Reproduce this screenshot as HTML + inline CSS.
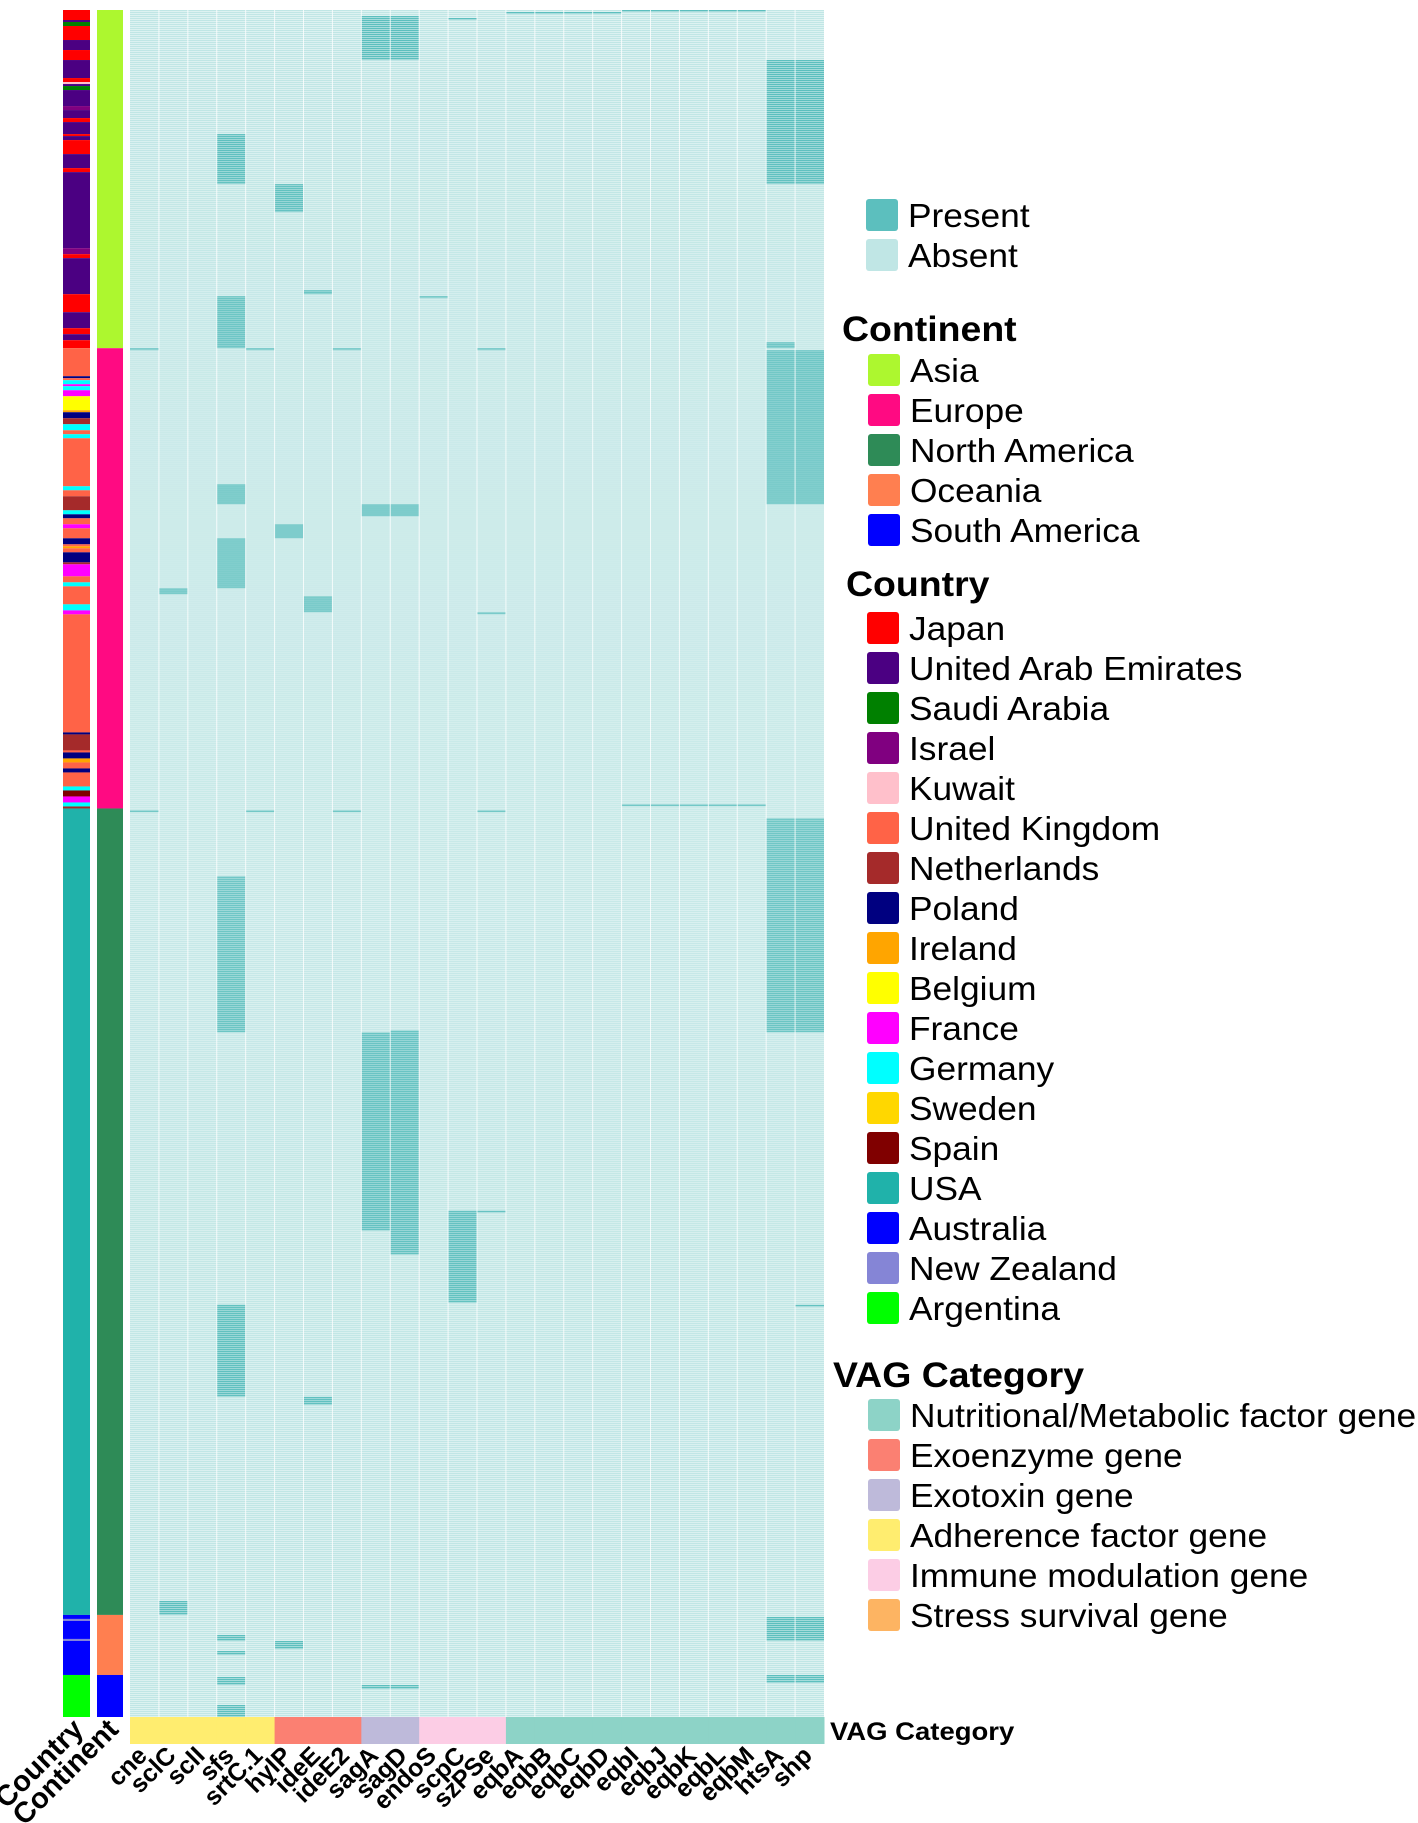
<!DOCTYPE html>
<html><head><meta charset="utf-8"><style>
html,body{margin:0;padding:0;background:#fff;}
svg{display:block;font-family:"Liberation Sans",Arial,sans-serif;}
</style></head><body>
<svg id="chart" width="1418" height="1823" viewBox="0 0 1418 1823" xmlns="http://www.w3.org/2000/svg">
<defs>
<pattern id="rowlines" x="0" y="10" width="10" height="2.001" patternUnits="userSpaceOnUse">
<rect x="0" y="1.45" width="10" height="0.55" fill="#ffffff" opacity="0.8"></rect>
</pattern>
</defs>
<g id="heat"></g>
<g id="bars"></g>
<g id="labels"></g>
<g id="legend"></g>
</svg>
<script>
// ---- data ----
const genes = ["cne","sclC","sclI","sfs","srtC.1","hylP","ideE","ideE2","sagA","sagD","endoS","scpC","szPSe","eqbA","eqbB","eqbC","eqbD","eqbI","eqbJ","eqbK","eqbL","eqbM","htsA","shp"];
const geneCategory = ["Adherence","Adherence","Adherence","Adherence","Adherence","Exoenzyme","Exoenzyme","Exoenzyme","Exotoxin","Exotoxin","Immune","Immune","Immune","Nutritional","Nutritional","Nutritional","Nutritional","Nutritional","Nutritional","Nutritional","Nutritional","Nutritional","Nutritional","Nutritional"];
const nRows = 853;
// present blocks: gene column index, first row, end row (exclusive)
const presentCol   = [8,9,11,13,14,15,16,17,18,19,20,21,22,23,3,5,6,10,3,0,4,7,12,22, 22,23,3,8,9,5,3,1,6,12,17,18,19,20,21, 0,4,7,12,22,23,3,8,9,11,12,23,3,6,1, 22,23,3,3,5,3,22,23,8,9,3];
const presentStart = [3,3,4,1,1,1,1,0,0,0,0,0,25,25,62,87,140,143,143,169,169,169,169,166, 170,170,237,247,247,257,264,289,293,301,397,397,397,397,397, 400,400,400,400,404,404,433,511,510,600,600,647,647,693,795, 803,803,812,820,815,833,832,832,837,837,847];
const presentEnd   = [25,25,5,2,2,2,2,1,1,1,1,1,87,87,87,101,142,144,169,170,170,170,170,169, 247,247,247,253,253,264,289,292,301,302,398,398,398,398,398, 401,401,401,401,511,511,511,610,622,646,601,648,693,697,802, 815,815,815,822,819,837,836,836,839,839,853];
const continentNames = ["Asia","Europe","North America","Oceania","South America"];
const continentStart = [0,169,399,802,832];
const countrySeq = ["Japan","United Arab Emirates","Saudi Arabia","Japan","United Arab Emirates","Japan","United Arab Emirates","Japan","Kuwait","United Arab Emirates","Saudi Arabia","United Arab Emirates","Israel","United Arab Emirates","Japan","United Arab Emirates","Japan","United Arab Emirates","Japan","United Arab Emirates","Japan","United Arab Emirates","Israel","Japan","United Arab Emirates","Japan","United Arab Emirates","Japan","United Arab Emirates","Japan",
"United Kingdom","Poland","United Kingdom","Germany","France","Germany","France","Belgium","Ireland","Poland","Netherlands","Germany","United Kingdom","Germany","United Kingdom","Germany","United Kingdom","Netherlands","Germany","Poland","United Kingdom","France","United Kingdom","Poland","United Kingdom","Ireland","United Kingdom","Poland","Netherlands","France","United Kingdom","Germany","United Kingdom","Germany","France","United Kingdom","Poland","Netherlands","United Kingdom","Poland","Ireland","United Kingdom","Poland","United Kingdom","Germany","Spain","France","Germany","Netherlands",
"USA","Australia","New Zealand","Australia","New Zealand","Australia","Argentina"];
const countryStart = [0,5,6,8,15,20,25,34,36,37,38,40,48,50,54,56,62,63,65,72,79,81,119,122,124,142,151,159,162,165,
169,183,184,185,187,188,190,193,200,201,204,207,210,212,214,238,240,243,250,252,254,257,259,264,267,268,269,271,276,277,283,286,288,297,300,302,361,362,370,371,374,376,379,381,388,390,393,396,398,
399,802,804,805,814,815,832];
const presenceLabels = ["Present","Absent"];
const countryLegend = ["Japan","United Arab Emirates","Saudi Arabia","Israel","Kuwait","United Kingdom","Netherlands","Poland","Ireland","Belgium","France","Germany","Sweden","Spain","USA","Australia","New Zealand","Argentina"];
const vagLegend = ["Nutritional/Metabolic factor gene","Exoenzyme gene","Exotoxin gene","Adherence factor gene","Immune modulation gene","Stress survival gene"];

// ---- styles ----
const C_PRESENT = "#5cbfbe", C_ABSENT = "#c0e6e5";
const contColor = {"Asia":"#adf72f","Europe":"#ff0a82","North America":"#2e8b57","Oceania":"#ff7f50","South America":"#0000ff"};
const countryColor = {"Japan":"#ff0000","United Arab Emirates":"#4b0082","Saudi Arabia":"#008000","Israel":"#800080","Kuwait":"#ffc0cb","United Kingdom":"#ff6347","Netherlands":"#a52a2a","Poland":"#000080","Ireland":"#ffa500","Belgium":"#ffff00","France":"#ff00ff","Germany":"#00ffff","Sweden":"#ffd700","Spain":"#800000","USA":"#20b2aa","Australia":"#0000ff","New Zealand":"#8585d6","Argentina":"#00ff00"};
const catColor = {"Nutritional":"#8dd3c7","Exoenzyme":"#fb8072","Exotoxin":"#bebada","Adherence":"#ffed6f","Immune":"#fccde5","Stress":"#fdb462"};
const vagLegendColor = ["#8dd3c7","#fb8072","#bebada","#ffed6f","#fccde5","#fdb462"];

const NS = "http://www.w3.org/2000/svg";
const X0 = 130, X1 = 824, Y0 = 10, Y1 = 1717;
const colW = (X1 - X0) / genes.length;
const rowH = (Y1 - Y0) / nRows;
const xCol = c => X0 + c * colW;
const yRow = r => Y0 + r * rowH;
const SX = 1.07;
function mk(tag, attrs, parent){ const e=document.createElementNS(NS,tag); for(const k in attrs) e.setAttribute(k,attrs[k]); parent.appendChild(e); return e; }
const stretch = x => `translate(${x} 0) scale(${SX} 1) translate(${-x} 0)`;

const heat = document.getElementById("heat");
const bg = mk("rect",{x:X0,y:Y0,width:X1-X0,height:Y1-Y0,fill:C_ABSENT},heat);


for (let i=0;i<presentCol.length;i++){
  const r = mk("rect",{x:xCol(presentCol[i]),y:yRow(presentStart[i]),width:colW,height:(presentEnd[i]-presentStart[i])*rowH,fill:C_PRESENT},heat);
  
  
}
const ov = mk("rect",{x:X0,y:Y0,width:X1-X0,height:Y1-Y0,fill:"url(#rowlines)"},heat);


for (let c=1;c<genes.length;c++){
  const l = mk("line",{x1:xCol(c),x2:xCol(c),y1:Y0,y2:Y1,stroke:"#ffffff","stroke-width":1,opacity:0.8},heat);
  
  
}

const bars = document.getElementById("bars");
for (let i=0;i<countrySeq.length;i++){
  const s = countryStart[i], e = i+1<countryStart.length ? countryStart[i+1] : nRows;
  const r = mk("rect",{x:63,y:yRow(s),width:27,height:(e-s)*rowH,fill:countryColor[countrySeq[i]]},bars);
  
  
}
for (let i=0;i<continentNames.length;i++){
  const s = continentStart[i], e = i+1<continentStart.length ? continentStart[i+1] : nRows;
  const r = mk("rect",{x:97,y:yRow(s),width:26,height:(e-s)*rowH,fill:contColor[continentNames[i]]},bars);
  
  
}
for (let c=0;c<genes.length;c++){
  const r = mk("rect",{x:xCol(c),y:1717,width:colW+0.5,height:27,fill:catColor[geneCategory[c]]},bars);
  
  
}
const vt = mk("text",{x:830,y:1740,"font-size":25,"font-weight":"bold",fill:"#000",transform:`translate(830 0) scale(1.1 1) translate(-830 0)`},bars);
vt.textContent = "VAG Category";



const labels = document.getElementById("labels");
for (let c=0;c<genes.length;c++){
  const cx = xCol(c)+colW/2+4, cy = 1757;
  const t = mk("text",{x:cx,y:cy,"text-anchor":"end","font-size":25,"font-weight":"bold",transform:`rotate(-45 ${cx} ${cy})`},labels);
  t.textContent = genes[c];
  
  
}
[["Country",85],["Continent",120]].forEach(([txt,cx])=>{
  const cy=1731;
  const t = mk("text",{x:cx,y:cy,"text-anchor":"end","font-size":29,"font-weight":"bold",transform:`rotate(-45 ${cx} ${cy})`},labels);
  t.textContent = txt;
  
  
});

const lg = document.getElementById("legend");
function item(color, label, sx, top, fs){
  const r = mk("rect",{x:sx,y:top,width:32,height:32,rx:3,fill:color},lg);
  
  
  const tx = sx+42;
  const t = mk("text",{x:tx,y:top+28,"font-size":fs,fill:"#000",transform:stretch(tx)},lg);
  t.textContent = label;
  
  
}
function heading(txt,x,y){
  const t = mk("text",{x:x,y:y,"font-size":35,"font-weight":"bold",fill:"#000",transform:stretch(x)},lg);
  t.textContent = txt;
  
  
}
item(C_PRESENT, presenceLabels[0], 866, 199, 33);
item(C_ABSENT, presenceLabels[1], 866, 239, 33);
heading("Continent", 842, 341);
continentNames.forEach((n,i)=>item(contColor[n], n, 868, 354+i*40, 33));
heading("Country", 846, 596);
countryLegend.forEach((n,i)=>item(countryColor[n], n, 867, 612+i*40, 33));
heading("VAG Category", 833, 1387);
vagLegend.forEach((n,i)=>item(vagLegendColor[i], n, 868, 1399+i*40, 33));
</script>
</body></html>
